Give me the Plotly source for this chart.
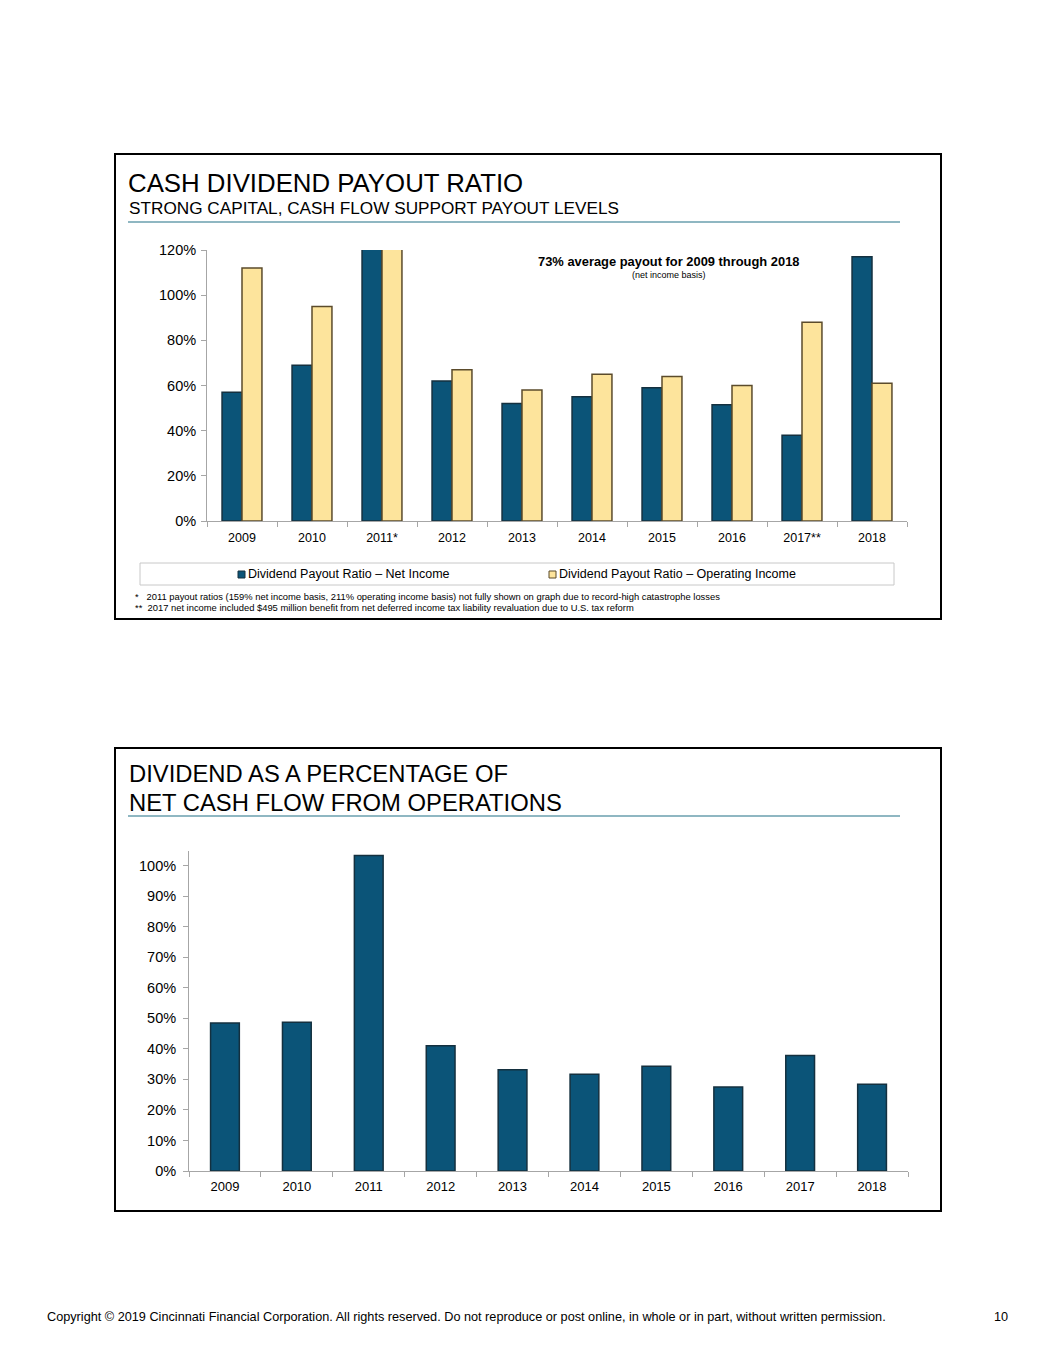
import plotly.graph_objects as go

# page is rendered inside an 8px body margin: keep the figure inside the window
OFF = 8
W, H = 1055 - 2 * OFF, 1365 - 2 * OFF

# ---- data ----
years_top = ["2009", "2010", "2011*", "2012", "2013", "2014", "2015", "2016", "2017**", "2018"]
payout_net = [57, 69, 159, 62, 52, 55, 59, 51.5, 38, 117]
payout_oper = [112, 95, 211, 67, 58, 65, 64, 60, 88, 61]

years_bot = ["2009", "2010", "2011", "2012", "2013", "2014", "2015", "2016", "2017", "2018"]
div_cash_flow = [48.5, 48.7, 103.3, 41, 33.2, 31.7, 34.3, 27.5, 37.8, 28.4]

top_ticks = [0, 20, 40, 60, 80, 100, 120]
bot_ticks = [0, 10, 20, 30, 40, 50, 60, 70, 80, 90, 100]

BLUE = "#0b5478"
BLUE_LINE = "#14303f"
GOLD = "#fde49c"
GOLD_LINE = "#5b4b2b"
FONT = "Arial, Liberation Sans, sans-serif"


def px(x):
    return (x - OFF) / W


def py(y):
    return 1 - (y - OFF) / H


fig = go.Figure()

fig.add_trace(go.Bar(
    x=years_top, y=payout_net, name="Dividend Payout Ratio \u2013 Net Income",
    marker=dict(color=BLUE, line=dict(color=BLUE_LINE, width=1.5)),
    xaxis="x", yaxis="y", showlegend=False))
fig.add_trace(go.Bar(
    x=years_top, y=payout_oper, name="Dividend Payout Ratio \u2013 Operating Income",
    marker=dict(color=GOLD, line=dict(color=GOLD_LINE, width=1.5)),
    xaxis="x", yaxis="y", showlegend=False))
fig.add_trace(go.Bar(
    x=years_bot, y=div_cash_flow, name="Dividend / net cash flow",
    marker=dict(color=BLUE, line=dict(color=BLUE_LINE, width=1.5)),
    xaxis="x2", yaxis="y2", showlegend=False, width=0.4))

axis_common = dict(showgrid=False, zeroline=False, showline=True, linecolor="#a6a6a6",
                   linewidth=1, ticks="outside", tickcolor="#a6a6a6", ticklen=5,
                   fixedrange=True, automargin=False)

fig.update_layout(
    width=W, height=H,
    margin=dict(l=0, r=0, t=0, b=0, pad=0, autoexpand=False),
    paper_bgcolor="white", plot_bgcolor="white",
    font=dict(family=FONT, color="#000000"),
    barmode="group", bargap=0.43, bargroupgap=0,
    showlegend=False,
    xaxis=dict(domain=[px(207), px(907)], anchor="y", tickson="boundaries",
               tickfont=dict(size=12.5), ticklabelstandoff=5, **axis_common),
    yaxis=dict(domain=[py(521), py(250)], anchor="x", range=[0, 120],
               tickmode="array", tickvals=top_ticks,
               ticktext=["%d%%" % v for v in top_ticks],
               tickfont=dict(size=14.5), ticklabelstandoff=2, **axis_common),
    xaxis2=dict(domain=[px(189), px(908)], anchor="y2", tickson="boundaries",
                tickfont=dict(size=13), ticklabelstandoff=3, **axis_common),
    yaxis2=dict(domain=[py(1171), py(851)], anchor="x2", range=[0, 104.8],
                tickmode="array", tickvals=bot_ticks,
                ticktext=["%d%%" % v for v in bot_ticks],
                tickfont=dict(size=14.5), ticklabelstandoff=4, **axis_common),
)

shapes = []
# panel borders
shapes.append(dict(type="rect", xref="paper", yref="paper", x0=px(115), x1=px(941),
                   y0=py(619), y1=py(154), line=dict(color="black", width=2)))
shapes.append(dict(type="rect", xref="paper", yref="paper", x0=px(115), x1=px(941),
                   y0=py(1211), y1=py(748), line=dict(color="black", width=2)))
# title underlines
shapes.append(dict(type="line", xref="paper", yref="paper", x0=px(128), x1=px(900),
                   y0=py(222), y1=py(222), line=dict(color="#6a9fae", width=1.5)))
shapes.append(dict(type="line", xref="paper", yref="paper", x0=px(128), x1=px(900),
                   y0=py(816), y1=py(816), line=dict(color="#6a9fae", width=1.5)))
# legend box
shapes.append(dict(type="rect", xref="paper", yref="paper", x0=px(140), x1=px(894),
                   y0=py(585), y1=py(563), line=dict(color="#c8c8c8", width=1)))
# legend swatches
shapes.append(dict(type="rect", xref="paper", yref="paper", x0=px(238), x1=px(245),
                   y0=py(578), y1=py(571), fillcolor=BLUE, line=dict(color=BLUE_LINE, width=1)))
shapes.append(dict(type="rect", xref="paper", yref="paper", x0=px(549), x1=px(556),
                   y0=py(578), y1=py(571), fillcolor=GOLD, line=dict(color=GOLD_LINE, width=1)))
fig.update_layout(shapes=shapes)

ann = []


def text(x, y, s, size, xanchor="left", bold=False, color="#000000"):
    ann.append(dict(xref="paper", yref="paper", x=px(x), y=py(y), text=("<b>%s</b>" % s) if bold else s,
                    showarrow=False, xanchor=xanchor, yanchor="middle",
                    font=dict(size=size, color=color, family=FONT)))


text(126, 183, "CASH DIVIDEND PAYOUT RATIO", 25.8)
text(127, 208, "STRONG CAPITAL, CASH FLOW SUPPORT PAYOUT LEVELS", 17.2)
text(669, 262, "73% average payout for 2009 through 2018", 12.9, xanchor="center", bold=True)
text(669, 275, "(net income basis)", 9, xanchor="center")
text(246, 574, "Dividend Payout Ratio \u2013 Net Income", 12.5)
text(557, 574, "Dividend Payout Ratio \u2013 Operating Income", 12.5)
text(133, 596, "*&nbsp;&nbsp;&nbsp;2011 payout ratios (159% net income basis, 211% operating income basis) not fully shown on graph due to record-high catastrophe losses", 9.4)
text(133, 607, "**&nbsp;&nbsp;2017 net income included $495 million benefit from net deferred income tax liability revaluation due to U.S. tax reform", 9.4)
text(127, 773, "DIVIDEND AS A PERCENTAGE OF", 23.8)
text(127, 802, "NET CASH FLOW FROM OPERATIONS", 23.8)
text(45, 1317, "Copyright \u00a9 2019 Cincinnati Financial Corporation. All rights reserved. Do not reproduce or post online, in whole or in part, without written permission.", 12.7)
text(1010, 1317, "10", 12.7, xanchor="right")
fig.update_layout(annotations=ann)

fig.write_html("out.html")
